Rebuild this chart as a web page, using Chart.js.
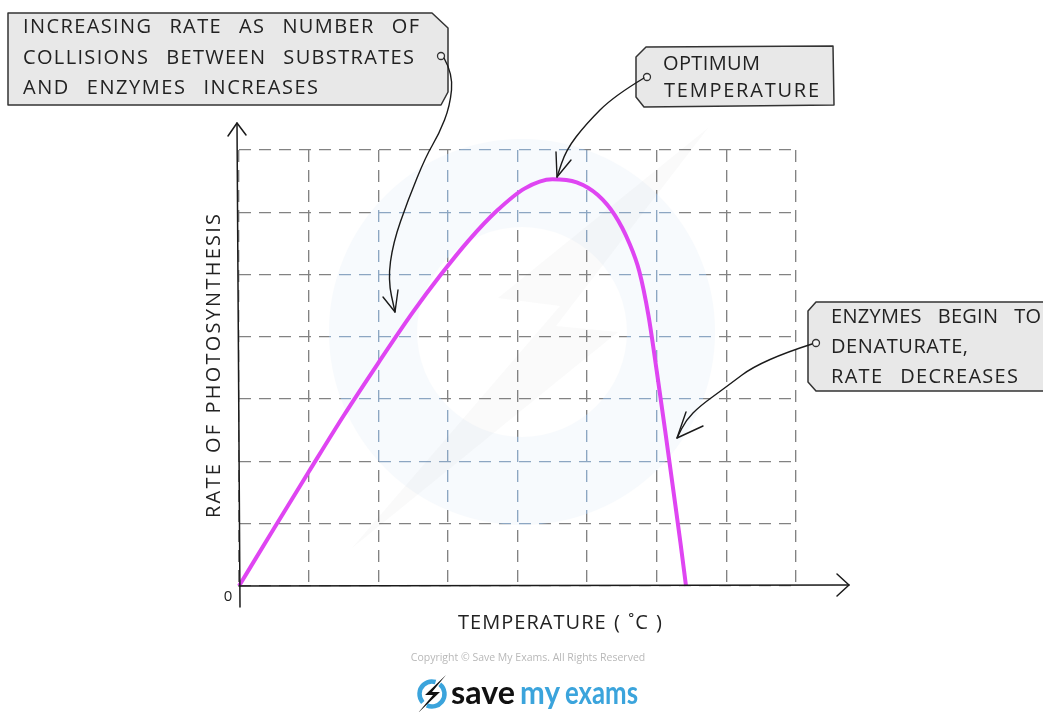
<!DOCTYPE html>
<html>
<head>
<meta charset="utf-8">
<script src="https://cdn.jsdelivr.net/npm/chart.js@4.4.0/dist/chart.umd.min.js"></script>
<style>
  html, body { margin: 0; padding: 0; background: #fff; overflow: hidden; }
  canvas { display: block; }
</style>
</head>
<body>
<canvas id="chart" width="1043" height="712"></canvas>
<script>
// Temperature (grid units) and rate of photosynthesis (grid units) along the curve
const temperature = [0, 0.5, 1.0, 1.5, 2.0, 2.5, 2.9, 3.3, 3.7, 4.1, 4.5, 4.85, 5.15, 5.4, 5.6, 5.75, 5.88, 6.0, 6.12, 6.24, 6.34, 6.42];
const rate        = [0, 0.92, 1.83, 2.73, 3.58, 4.40, 5.00, 5.55, 6.02, 6.38, 6.53, 6.48, 6.28, 5.95, 5.52, 5.05, 4.35, 3.45, 2.50, 1.52, 0.70, 0];

// Grid extent (number of squares on each axis)
const xGridMax = 8;
const yGridMax = 7;

// Axis text
const xAxisTitle = 'TEMPERATURE ( ˚C )';
const yAxisTitle = 'RATE OF PHOTOSYNTHESIS';
const originLabel = '0';

// Callout text
const noteRising  = ['INCREASING RATE AS NUMBER OF', 'COLLISIONS BETWEEN SUBSTRATES', 'AND ENZYMES INCREASES'];
const noteOptimum = ['OPTIMUM', 'TEMPERATURE'];
const noteFalling = ['ENZYMES BEGIN TO', 'DENATURATE,', 'RATE DECREASES'];

const copyrightText = 'Copyright © Save My Exams. All Rights Reserved';
const brandWords = ['save', 'my', 'exams'];

const INK = '#222222';
const CURVE = '#df45f2';
const BRAND_BLUE = '#3ba4dc';
const TEXT_FONT = '20px "Open Sans", "DejaVu Sans", sans-serif';

// Draws caps text letter by letter so that it spans a given width,
// with wide gaps between words.
function spacedText(ctx, str, x, y, width, gapSpaces) {
  const words = str.split(/\s+/);
  const sw = ctx.measureText(' ').width;
  let charsW = 0, nGaps = 0;
  words.forEach(w => {
    const chars = [...w];
    chars.forEach(c => { charsW += ctx.measureText(c).width; });
    nGaps += chars.length - 1;
  });
  const wordGaps = words.length - 1;
  const ls = (width - charsW - wordGaps * gapSpaces * sw) / (nGaps + wordGaps * 2);
  let cx = x;
  words.forEach((w, i) => {
    const chars = [...w];
    chars.forEach((c, j) => {
      ctx.fillText(c, cx, y);
      cx += ctx.measureText(c).width + (j < chars.length - 1 ? ls : 0);
    });
    if (i < words.length - 1) cx += gapSpaces * sw + 2 * ls;
  });
}

// Draws one word squeezed or stretched horizontally to a given width
function fitWord(ctx, word, x, y, width) {
  const w = ctx.measureText(word).width;
  ctx.save();
  ctx.translate(x, y);
  ctx.scale(width / w, 1);
  ctx.fillText(word, 0, 0);
  ctx.restore();
}

function polyline(ctx, pts, close) {
  ctx.beginPath();
  ctx.moveTo(pts[0][0], pts[0][1]);
  for (let i = 1; i < pts.length; i++) ctx.lineTo(pts[i][0], pts[i][1]);
  if (close) ctx.closePath();
}

function smoothCurve(ctx, pts) {
  ctx.beginPath();
  ctx.moveTo(pts[0][0], pts[0][1]);
  for (let i = 1; i < pts.length - 1; i++) {
    const mx = (pts[i][0] + pts[i + 1][0]) / 2;
    const my = (pts[i][1] + pts[i + 1][1]) / 2;
    ctx.quadraticCurveTo(pts[i][0], pts[i][1], mx, my);
  }
  const last = pts[pts.length - 1];
  ctx.lineTo(last[0], last[1]);
  ctx.stroke();
}

function callout(ctx, shape, dot, lines) {
  ctx.save();
  polyline(ctx, shape, true);
  ctx.fillStyle = '#e8e8e8';
  ctx.fill();
  ctx.strokeStyle = '#333';
  ctx.lineWidth = 1.5;
  ctx.lineJoin = 'round';
  ctx.stroke();
  ctx.beginPath();
  ctx.arc(dot[0], dot[1], 3.5, 0, Math.PI * 2);
  ctx.fillStyle = '#f4f4f4';
  ctx.fill();
  ctx.lineWidth = 1.3;
  ctx.stroke();
  ctx.fillStyle = INK;
  ctx.font = TEXT_FONT;
  ctx.textBaseline = 'alphabetic';
  ctx.textAlign = 'left';
  lines.forEach(l => spacedText(ctx, l.text, l.x, l.cy + 7, l.w, 3));
  ctx.restore();
}

function pointer(ctx, path, armA, armB) {
  ctx.save();
  ctx.strokeStyle = '#1a1a1a';
  ctx.lineWidth = 1.4;
  ctx.lineCap = 'round';
  ctx.lineJoin = 'round';
  smoothCurve(ctx, path);
  const tip = path[path.length - 1];
  polyline(ctx, [armA, tip, armB]);
  ctx.stroke();
  ctx.restore();
}

const decorations = {
  id: 'decorations',
  beforeDraw(chart) {
    const ctx = chart.ctx;
    ctx.save();
    ctx.fillStyle = '#ffffff';
    ctx.fillRect(0, 0, chart.width, chart.height);
    ctx.restore();
  },
  beforeDatasetsDraw(chart) {
    // faint brand watermark behind the curve
    const ctx = chart.ctx;
    const cx = 522, cy = 332, R = 193, r = 105;
    ctx.save();
    ctx.beginPath();
    ctx.arc(cx, cy, R, 0, Math.PI * 2);
    ctx.arc(cx, cy, r, 0, Math.PI * 2, true);
    ctx.globalCompositeOperation = 'screen';
    ctx.fillStyle = 'rgb(30,80,135)';
    ctx.fill();
    ctx.globalCompositeOperation = 'multiply';
    ctx.fillStyle = '#f7fafd';
    ctx.fill();
    // bolt
    polyline(ctx, [[708, 128], [498, 298], [560, 306], [352, 548], [618, 332], [556, 326]], true);
    ctx.globalCompositeOperation = 'source-over';
    ctx.fillStyle = 'rgba(120,120,120,0.035)';
    ctx.fill();
    ctx.restore();
  },
  afterDraw(chart) {
    const ctx = chart.ctx;
    const xs = chart.scales.x, ys = chart.scales.y;
    const x0 = xs.getPixelForValue(0);
    const y0 = ys.getPixelForValue(0);

    // axes with open arrowheads
    ctx.save();
    ctx.strokeStyle = '#1a1a1a';
    ctx.lineWidth = 1.5;
    ctx.lineCap = 'round';
    ctx.lineJoin = 'round';
    polyline(ctx, [[x0 + 1, y0 + 21], [x0 - 2, 123]]);
    ctx.stroke();
    polyline(ctx, [[x0 - 11, 136], [x0 - 2, 123], [x0 + 7, 135]]);
    ctx.stroke();
    polyline(ctx, [[x0, y0], [849, y0 - 1]]);
    ctx.stroke();
    polyline(ctx, [[837, y0 - 12], [849, y0 - 1], [837, y0 + 10]]);
    ctx.stroke();
    ctx.restore();

    // axis labels
    ctx.save();
    ctx.fillStyle = INK;
    ctx.font = '15px "Open Sans", "DejaVu Sans", sans-serif';
    ctx.textAlign = 'center';
    ctx.textBaseline = 'middle';
    ctx.fillText(originLabel, x0 - 11, y0 + 11);
    ctx.font = TEXT_FONT;
    ctx.textAlign = 'left';
    ctx.textBaseline = 'alphabetic';
    spacedText(ctx, xAxisTitle, 458, 622 + 7, 204, 1.2);
    ctx.translate(213, 366);
    ctx.rotate(-Math.PI / 2);
    spacedText(ctx, yAxisTitle, -152, 7, 304, 1.3);
    ctx.restore();

    // callouts
    callout(ctx,
      [[8, 13], [432, 13], [448, 28], [448, 92], [441, 105], [8, 105]],
      [441, 56],
      [{ text: noteRising[0], x: 23, cy: 26, w: 396 },
       { text: noteRising[1], x: 23, cy: 57, w: 391 },
       { text: noteRising[2], x: 23, cy: 87, w: 295 }]);
    callout(ctx,
      [[646, 47], [833, 46], [834, 105], [644, 107], [636, 97], [636, 57]],
      [647, 77],
      [{ text: noteOptimum[0], x: 663, cy: 63, w: 97 },
       { text: noteOptimum[1], x: 664, cy: 90, w: 155 }]);
    callout(ctx,
      [[816, 302], [1050, 302], [1050, 391], [816, 391], [808, 382], [808, 311]],
      [816, 343],
      [{ text: noteFalling[0], x: 831, cy: 316, w: 210 },
       { text: noteFalling[1], x: 831, cy: 346, w: 137 },
       { text: noteFalling[2], x: 831, cy: 376, w: 187 }]);

    // pointers from the callouts to the curve
    pointer(ctx,
      [[444, 58], [453, 74], [450, 106], [439, 134], [426, 156], [408, 200], [393, 243], [388, 280], [395, 312]],
      [383, 297], [398, 290]);
    pointer(ctx,
      [[644, 78], [614, 96], [586, 124], [566, 150], [557, 177]],
      [556, 152], [571, 160]);
    pointer(ctx,
      [[812, 344], [762, 360], [722, 390], [700, 406], [686, 420], [677, 438]],
      [686, 412], [703, 426]);

    // copyright line
    ctx.save();
    ctx.fillStyle = '#b8b8b8';
    ctx.font = '10.5px "Open Sans", "DejaVu Sans", sans-serif';
    ctx.textAlign = 'center';
    ctx.textBaseline = 'middle';
    ctx.fillText(copyrightText, 528, 658);
    ctx.restore();

    // brand mark
    ctx.save();
    const lx = 432, ly = 694;
    ctx.strokeStyle = BRAND_BLUE;
    ctx.lineWidth = 4.5;
    ctx.beginPath();
    ctx.arc(lx, ly, 12.5, -0.9, 2.0);
    ctx.stroke();
    ctx.beginPath();
    ctx.arc(lx, ly, 12.5, 2.4, 5.0);
    ctx.stroke();
    ctx.fillStyle = '#111';
    polyline(ctx, [[lx + 14, ly - 19], [lx - 7, ly + 1], [lx + 1, ly + 1], [lx - 14, ly + 19], [lx + 8, ly - 2], [lx, ly - 2]], true);
    ctx.fill();
    ctx.font = 'bold 32px Lato, "Open Sans", sans-serif';
    ctx.textBaseline = 'alphabetic';
    ctx.textAlign = 'left';
    ctx.fillStyle = '#111';
    fitWord(ctx, brandWords[0], 451, 704, 64);
    ctx.fillStyle = BRAND_BLUE;
    fitWord(ctx, brandWords[1], 520, 704, 40);
    fitWord(ctx, brandWords[2], 565, 704, 73);
    ctx.restore();
  }
};

const gridStyle = { color: '#828282', lineWidth: 1.35, drawTicks: false };

new Chart(document.getElementById('chart').getContext('2d'), {
  type: 'line',
  data: {
    datasets: [{
      data: temperature.map((t, i) => ({ x: t, y: rate[i] })),
      borderColor: CURVE,
      borderWidth: 4,
      pointRadius: 0,
      fill: false,
      cubicInterpolationMode: 'monotone',
      clip: false
    }]
  },
  options: {
    responsive: false,
    animation: false,
    events: [],
    layout: { padding: { left: 239, right: 247, top: 150, bottom: 126 } },
    plugins: { legend: { display: false }, tooltip: { enabled: false } },
    scales: {
      x: {
        type: 'linear', min: 0, max: xGridMax,
        ticks: { display: false, stepSize: 1 },
        grid: gridStyle,
        border: { display: false, dash: [12, 8] }
      },
      y: {
        type: 'linear', min: 0, max: yGridMax,
        ticks: { display: false, stepSize: 1 },
        grid: gridStyle,
        border: { display: false, dash: [12, 8] }
      }
    }
  },
  plugins: [decorations]
});
</script>
</body>
</html>
